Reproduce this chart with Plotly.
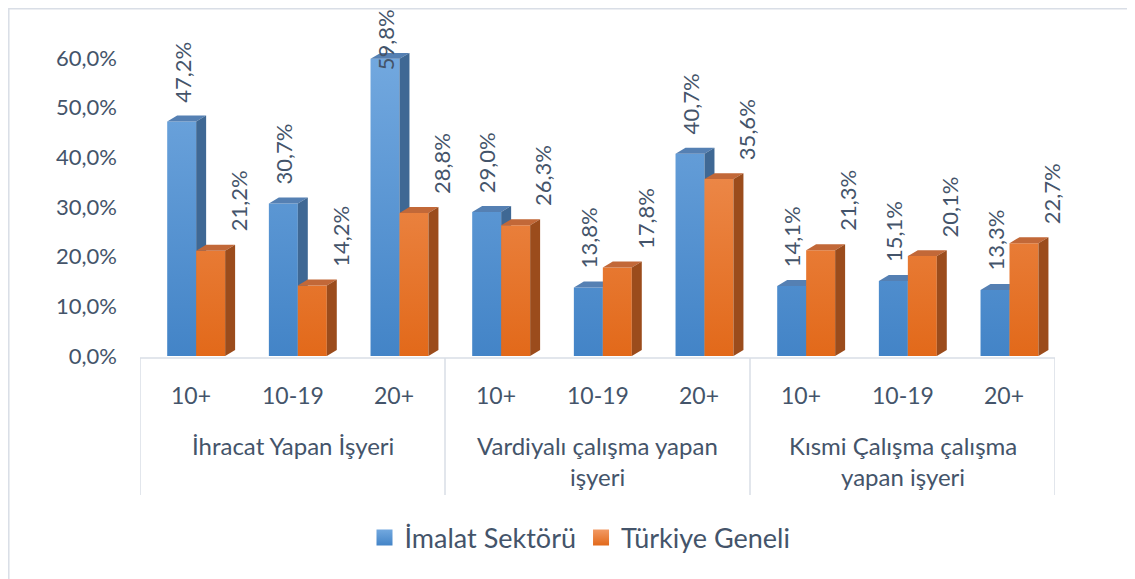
import plotly.graph_objects as go

# ---- data ----
groups = [["İhracat Yapan İşyeri"],
          ["Vardiyalı çalışma yapan", "işyeri"],
          ["Kısmi Çalışma çalışma", "yapan işyeri"]]
sub_labels = ["10+", "10-19", "20+", "10+", "10-19", "20+", "10+", "10-19", "20+"]
series_names = ["İmalat Sektörü", "Türkiye Geneli"]
imalat = [47.2, 30.7, 59.8, 29.0, 13.8, 40.7, 14.1, 15.1, 13.3]
turkiye = [21.2, 14.2, 28.8, 26.3, 17.8, 35.6, 21.3, 20.1, 22.7]
y_ticks = [0, 10, 20, 30, 40, 50, 60]

# ---- style ----
FONT = "Lato"
TXT = "#44546A"
GRID = "#D9DEE6"
OFF = 8                      # page body margin offset
WW, WH = 1135, 579           # window size
W, H = WW - OFF, WH - OFF    # figure size
PL, PR, PT, PB = 140, 1055, 33, 356   # plot area in window pixels
ML, MR, MT, MB = PL - OFF, W - (PR - OFF), PT - OFF, H - (PB - OFF)
PW, PH = W - ML - MR, H - MT - MB
YMAX = 65.0

def py_paper(py):  # window pixel y -> paper y
    return (PB - py) / PH

def px_paper(px):
    return (px - PL) / PW

def fmt(v):
    return f"{v:.1f}".replace(".", ",") + "%"

bar_w = 0.285
dx, dy = 0.098, 1.2
styles = [
    dict(off=-0.09, front=["#4384C7", "#72A8DF"], side="#3F6894", top="#5580B3", lab_dx=0.0),
    dict(off=0.195, front=["#E2691A", "#F29A64"], side="#9B4C1C", top="#C26838", lab_dx=0.27),
]

fig = go.Figure()
annotations = []

for name, vals, st in zip(series_names, [imalat, turkiye], styles):
    fx, fy, sx, sy, tx, ty = [], [], [], [], [], []
    for i, v in enumerate(vals):
        c = i + st["off"]
        xl, xr = c - bar_w / 2, c + bar_w / 2
        fx += [xl, xr, xr, xl, xl, None]
        fy += [0, 0, v, v, 0, None]
        sx += [xr, xr + dx, xr + dx, xr, xr, None]
        sy += [0, dy, v + dy, v, 0, None]
        tx += [xl, xl + dx, xr + dx, xr, xl, None]
        ty += [v, v + dy, v + dy, v, v, None]
        ylab = min(v + 3.4, 57.0)
        annotations.append(dict(x=c + st["lab_dx"], y=ylab, xref="x", yref="y",
                                text=fmt(v), textangle=-90, showarrow=False,
                                xanchor="center", yanchor="bottom",
                                font=dict(family=FONT, size=22, color=TXT)))
    fig.add_trace(go.Scatter(x=fx, y=fy, mode="none", fill="toself", name=name,
                             fillcolor=st["front"][0],
                             fillgradient=dict(type="vertical",
                                               colorscale=[[0, st["front"][0]], [1, st["front"][1]]],
                                               start=0, stop=60),
                             hoverinfo="skip", showlegend=False))
    fig.add_trace(go.Scatter(x=tx, y=ty, mode="none", fill="toself", fillcolor=st["top"],
                             hoverinfo="skip", showlegend=False))
    fig.add_trace(go.Scatter(x=sx, y=sy, mode="none", fill="toself", fillcolor=st["side"],
                             hoverinfo="skip", showlegend=False))

# legend entries (square swatches)
for name, st in zip(series_names, styles):
    fig.add_trace(go.Scatter(x=[None], y=[None], mode="markers", name=name,
                             marker=dict(symbol="square", size=16, color=st["front"][1],
                                         gradient=dict(type="vertical", color=st["front"][0]),
                                         line=dict(width=0)),
                             hoverinfo="skip", showlegend=True))

# sub-category labels
for i, lab in enumerate(sub_labels):
    annotations.append(dict(x=i, y=py_paper(395), xref="x", yref="paper", text=lab,
                            showarrow=False, xanchor="center", yanchor="middle",
                            font=dict(family=FONT, size=23, color=TXT)))
# group labels
for g, lines in enumerate(groups):
    for k, line in enumerate(lines):
        annotations.append(dict(x=g * 3 + 1, y=py_paper(445 + 32 * k), xref="x", yref="paper",
                                text=line, showarrow=False, xanchor="center", yanchor="middle",
                                font=dict(family=FONT, size=24, color=TXT)))

shapes = []
for b in [-0.5, 2.5, 5.5, 8.5]:
    shapes.append(dict(type="line", xref="x", yref="paper", x0=b, x1=b,
                       y0=py_paper(358), y1=py_paper(495), line=dict(color=GRID, width=1.5)))
shapes.append(dict(type="line", xref="x", yref="paper", x0=-0.5, x1=8.5,
                   y0=py_paper(358), y1=py_paper(358), line=dict(color=GRID, width=1.5)))
# outer chart frame (left and top edges visible)
shapes.append(dict(type="rect", xref="paper", yref="paper",
                   x0=px_paper(OFF + 0.8), x1=px_paper(WW + 20), y0=py_paper(WH + 20),
                   y1=py_paper(OFF + 0.8),
                   line=dict(color=GRID, width=1.5), fillcolor="rgba(0,0,0,0)", layer="below"))

fig.update_layout(
    width=W, height=H,
    margin=dict(l=ML, r=MR, t=MT, b=MB, autoexpand=False),
    paper_bgcolor="white", plot_bgcolor="white",
    separators=",.",
    font=dict(family=FONT, color=TXT, size=22),
    xaxis=dict(range=[-0.5, 8.5], showticklabels=False, showgrid=False, zeroline=False,
               showline=False, ticks="", automargin=False),
    yaxis=dict(range=[0, YMAX], tickmode="array", tickvals=y_ticks,
               ticktext=[fmt(v) for v in y_ticks],
               showgrid=False, zeroline=False, showline=False, ticks="", automargin=False,
               ticklabelstandoff=22, tickfont=dict(family=FONT, size=22, color=TXT)),
    legend=dict(orientation="h", x=px_paper(580), y=py_paper(538), xanchor="center",
                yanchor="middle", font=dict(family=FONT, size=27, color=TXT),
                itemwidth=30, bgcolor="rgba(0,0,0,0)"),
    annotations=annotations, shapes=shapes,
)

fig.write_html("out.html")
